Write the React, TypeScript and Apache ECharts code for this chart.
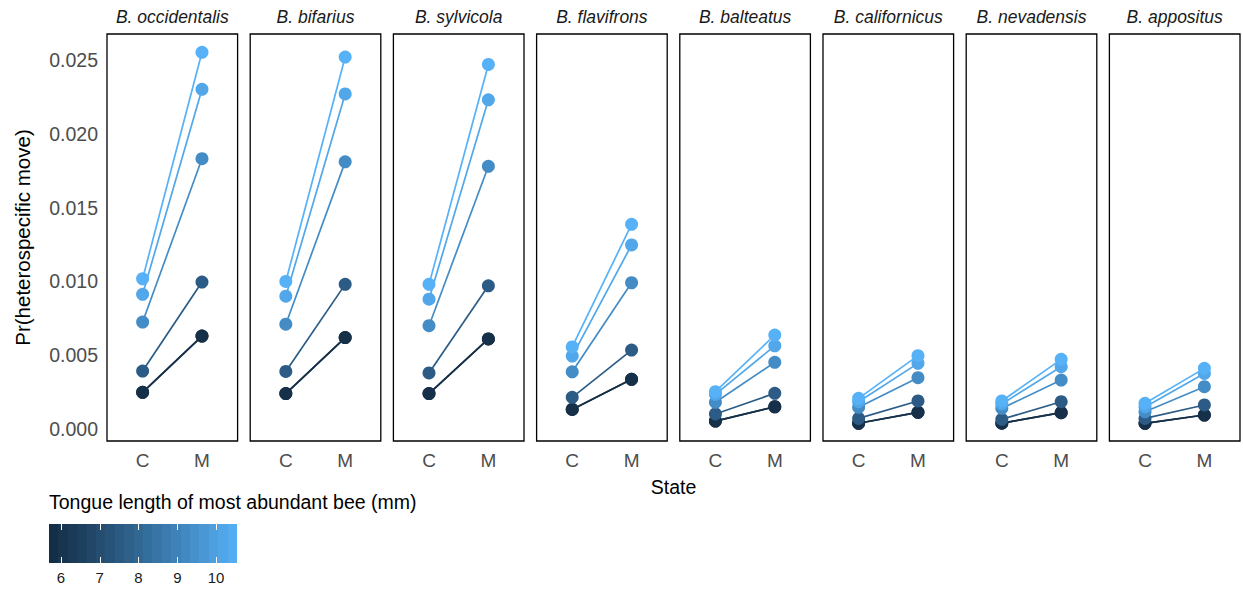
import React, { useEffect, useRef } from "react";
import * as echarts from "echarts";

const states = ["C", "M"];
const speciesNames = [
  "B. occidentalis",
  "B. bifarius",
  "B. sylvicola",
  "B. flavifrons",
  "B. balteatus",
  "B. californicus",
  "B. nevadensis",
  "B. appositus",
];
// tongue length (mm) of the most abundant bee, one line per value
const tongueLengths = [5.69, 5.9, 7.6, 9.3, 10.2, 10.54];

// values per species: C state and M state, ordered as tongueLengths
const occidentalisC = [0.00249, 0.00249, 0.00393, 0.00725, 0.00913, 0.01018];
const occidentalisM = [0.0063, 0.0063, 0.00996, 0.01831, 0.02301, 0.02552];
const bifariusC = [0.0024, 0.0024, 0.0039, 0.0071, 0.009, 0.01];
const bifariusM = [0.0062, 0.0062, 0.0098, 0.0181, 0.0227, 0.0252];
const sylvicolaC = [0.0024, 0.0024, 0.0038, 0.007, 0.0088, 0.0098];
const sylvicolaM = [0.0061, 0.0061, 0.0097, 0.0178, 0.0223, 0.0247];
const flavifronsC = [0.00133, 0.00133, 0.00215, 0.00388, 0.00494, 0.00556];
const flavifronsM = [0.00337, 0.00337, 0.00535, 0.00991, 0.01247, 0.01387];
const balteatusC = [0.00054, 0.00054, 0.00102, 0.00181, 0.00235, 0.00253];
const balteatusM = [0.00151, 0.00151, 0.00242, 0.00452, 0.00564, 0.00637];
const californicusC = [0.00039, 0.00039, 0.00072, 0.00147, 0.00185, 0.00208];
const californicusM = [0.00113, 0.00113, 0.0019, 0.00348, 0.00445, 0.00497];
const nevadensisC = [0.0004, 0.0004, 0.00066, 0.0014, 0.0017, 0.0019];
const nevadensisM = [0.00111, 0.00111, 0.00185, 0.00332, 0.00422, 0.00472];
const appositusC = [0.00039, 0.00039, 0.00072, 0.00117, 0.0015, 0.00174];
const appositusM = [0.00095, 0.00095, 0.00163, 0.00287, 0.00377, 0.00411];

const valuesC = [occidentalisC, bifariusC, sylvicolaC, flavifronsC, balteatusC, californicusC, nevadensisC, appositusC];
const valuesM = [occidentalisM, bifariusM, sylvicolaM, flavifronsM, balteatusM, californicusM, nevadensisM, appositusM];

const yTicks = [0, 0.005, 0.01, 0.015, 0.02, 0.025];
const legendTicks = [6, 7, 8, 9, 10];

// ---- colour scale (ggplot2 default gradient, interpolated in Lab) ----
const LOW = "#132B43";
const HIGH = "#56B1F7";
function hexToRgb(h: string) {
  return [1, 3, 5].map((i) => parseInt(h.slice(i, i + 2), 16));
}
function toLin(c: number) {
  c /= 255;
  return c <= 0.04045 ? c / 12.92 : Math.pow((c + 0.055) / 1.055, 2.4);
}
function fromLin(c: number) {
  const v = c <= 0.0031308 ? 12.92 * c : 1.055 * Math.pow(c, 1 / 2.4) - 0.055;
  return Math.max(0, Math.min(255, Math.round(v * 255)));
}
function rgbToLab(rgb: number[]) {
  const [r, g, b] = rgb.map(toLin);
  const x = (0.4124 * r + 0.3576 * g + 0.1805 * b) / 0.95047;
  const y = 0.2126 * r + 0.7152 * g + 0.0722 * b;
  const z = (0.0193 * r + 0.1192 * g + 0.9505 * b) / 1.08883;
  const f = (t: number) => (t > 0.008856 ? Math.cbrt(t) : 7.787 * t + 16 / 116);
  const fx = f(x), fy = f(y), fz = f(z);
  return [116 * fy - 16, 500 * (fx - fy), 200 * (fy - fz)];
}
function labToHex(lab: number[]) {
  const [L, a, bb] = lab;
  const fy = (L + 16) / 116;
  const fx = fy + a / 500;
  const fz = fy - bb / 200;
  const inv = (t: number) => (t * t * t > 0.008856 ? t * t * t : (t - 16 / 116) / 7.787);
  const x = inv(fx) * 0.95047, y = inv(fy), z = inv(fz) * 1.08883;
  const r = 3.2406 * x - 1.5372 * y - 0.4986 * z;
  const g = -0.9689 * x + 1.8758 * y + 0.0415 * z;
  const b = 0.0557 * x - 0.204 * y + 1.057 * z;
  return "#" + [r, g, b].map((c) => fromLin(c).toString(16).padStart(2, "0")).join("");
}
const labLow = rgbToLab(hexToRgb(LOW));
const labHigh = rgbToLab(hexToRgb(HIGH));
const tMin = Math.min(...tongueLengths);
const tMax = Math.max(...tongueLengths);
function colorFor(v: number) {
  const t = (v - tMin) / (tMax - tMin);
  return labToHex(labLow.map((l, i) => l + (labHigh[i] - l) * t));
}

const FONT = "Liberation Sans, Arial, Helvetica, sans-serif";

export default function App() {
  const ref = useRef<HTMLDivElement>(null);
  useEffect(() => {
    if (!ref.current) return;
    const chart = echarts.init(ref.current, null, { renderer: "svg" });

    const panelLeft = 107;
    const panelW = 130.6;
    const panelStep = 143.2;
    const panelTop = 34;
    const panelH = 407;

    const grids: any[] = [];
    const xAxes: any[] = [];
    const yAxes: any[] = [];
    const series: any[] = [];
    const graphics: any[] = [];

    speciesNames.forEach((name, p) => {
      const left = panelLeft + p * panelStep;
      grids.push({
        left,
        top: panelTop,
        width: panelW,
        height: panelH,
        show: true,
        borderColor: "#000",
        borderWidth: 1.3,
        backgroundColor: "#fff",
      });
      xAxes.push({
        type: "value",
        gridIndex: p,
        min: 0.4,
        max: 2.6,
        splitLine: { show: false },
        axisLine: { show: false },
        axisTick: { show: false },
        axisLabel: {
          customValues: [1, 2],
          formatter: (v: number) => states[Math.round(v) - 1] ?? "",
          color: "#4D4D4D",
          fontSize: 19,
          fontFamily: FONT,
          margin: 10,
        },
      });
      yAxes.push({
        type: "value",
        gridIndex: p,
        min: -0.00081,
        max: 0.02676,
        splitLine: { show: false },
        axisLine: { show: false },
        axisTick: { show: false },
        axisLabel: {
          show: p === 0,
          customValues: yTicks,
          formatter: (v: number) => v.toFixed(3),
          color: "#4D4D4D",
          fontSize: 19.5,
          fontFamily: FONT,
          margin: 9,
        },
        name: p === 0 ? "Pr(heterospecific move)" : "",
        nameLocation: "middle",
        nameGap: 74,
        nameTextStyle: { color: "#000", fontSize: 20.5, fontFamily: FONT },
      });
      tongueLengths.forEach((tl, k) => {
        const c = colorFor(tl);
        series.push({
          type: "line",
          xAxisIndex: p,
          yAxisIndex: p,
          data: [
            [1, valuesC[p][k]],
            [2, valuesM[p][k]],
          ],
          symbol: "circle",
          symbolSize: 13,
          lineStyle: { color: c, width: 1.7 },
          itemStyle: { color: c },
          z: 2 + k,
          silent: true,
        });
      });
      graphics.push({
        type: "text",
        x: left + panelW / 2,
        y: 17,
        style: {
          text: name,
          fill: "#1A1A1A",
          font: `italic 17.5px ${FONT}`,
          textAlign: "center",
          textVerticalAlign: "middle",
        },
      });
    });

    // colour bar legend
    const bins = 20;
    const stops: any[] = [];
    for (let i = 0; i < bins; i++) {
      const c = colorFor(tMin + ((i + 0.5) / bins) * (tMax - tMin));
      stops.push({ offset: i / bins, color: c });
      stops.push({ offset: (i + 1) / bins, color: c });
    }
    const lg = speciesNames.length;
    grids.push({
      left: 49,
      top: 524,
      width: 188,
      height: 39,
      show: true,
      borderWidth: 0,
      backgroundColor: new echarts.graphic.LinearGradient(0, 0, 1, 0, stops),
    });
    xAxes.push({
      type: "value",
      gridIndex: lg,
      min: tMin,
      max: tMax,
      position: "bottom",
      splitLine: { show: false },
      axisLine: { show: false },
      axisTick: { show: true, inside: true, length: 6, customValues: legendTicks, lineStyle: { color: "#fff", width: 1 } },
      axisLabel: { customValues: legendTicks, color: "#1A1A1A", fontSize: 15, fontFamily: FONT, margin: 7 },
    });
    xAxes.push({
      type: "value",
      gridIndex: lg,
      min: tMin,
      max: tMax,
      position: "top",
      splitLine: { show: false },
      axisLine: { show: false },
      axisTick: { show: true, inside: true, length: 6, customValues: legendTicks, lineStyle: { color: "#fff", width: 1 } },
      axisLabel: { show: false },
    });
    yAxes.push({ type: "value", gridIndex: lg, show: false, min: 0, max: 1 });

    graphics.push({
      type: "text",
      x: (panelLeft + (panelLeft + 7 * panelStep + panelW)) / 2,
      y: 487,
      style: { text: "State", fill: "#000", font: `19.5px ${FONT}`, textAlign: "center", textVerticalAlign: "middle" },
    });
    graphics.push({
      type: "text",
      x: 49,
      y: 502,
      style: {
        text: "Tongue length of most abundant bee (mm)",
        fill: "#000",
        font: `19.5px ${FONT}`,
        textAlign: "left",
        textVerticalAlign: "middle",
      },
    });

    chart.setOption({
      animation: false,
      backgroundColor: "#fff",
      grid: grids,
      xAxis: xAxes,
      yAxis: yAxes,
      series,
      graphic: graphics,
    });
    return () => chart.dispose();
  }, []);
  return <div ref={ref} style={{ position: "absolute", left: 0, top: 0, width: 1243, height: 590 }} />;
}
